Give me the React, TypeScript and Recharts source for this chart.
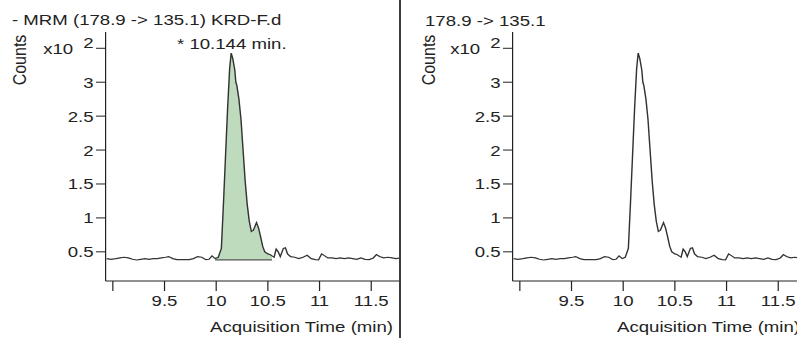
import { ComposedChart, Line, Area, XAxis, YAxis, ReferenceLine } from 'recharts';

// acquisition time (min) and counts (x10^2)
const times = [
  8.94, 8.98, 9.03, 9.07, 9.11, 9.15, 9.19, 9.23, 9.27, 9.31, 9.35, 9.39, 9.43, 9.47, 9.51, 9.54,
  9.58, 9.62, 9.66, 9.7, 9.74, 9.78, 9.82, 9.86, 9.9, 9.93, 9.96, 9.99, 10.02, 10.05, 10.07, 10.09,
  10.11, 10.13, 10.145, 10.16, 10.18, 10.19, 10.2, 10.22, 10.24, 10.26, 10.28, 10.3, 10.32, 10.34,
  10.36, 10.39, 10.41, 10.43, 10.45, 10.47, 10.5, 10.52, 10.54, 10.56, 10.58, 10.6, 10.62, 10.65,
  10.67, 10.69, 10.72, 10.76, 10.8, 10.84, 10.88, 10.92, 10.96, 10.99, 11.02, 11.05, 11.08, 11.12,
  11.16, 11.2, 11.24, 11.28, 11.32, 11.36, 11.4, 11.44, 11.48, 11.52, 11.55, 11.58, 11.62, 11.66,
  11.7, 11.74, 11.79,
];
const counts = [
  0.4, 0.39, 0.4, 0.41, 0.42, 0.41, 0.39, 0.38, 0.39, 0.4, 0.39, 0.4, 0.4, 0.41, 0.42, 0.43,
  0.4, 0.385, 0.385, 0.385, 0.385, 0.4, 0.43, 0.42, 0.385, 0.39, 0.44, 0.4, 0.42, 0.55, 1.2, 1.9,
  2.6, 3.2, 3.43, 3.35, 3.18, 3.0, 2.95, 2.75, 2.45, 2.0, 1.55, 1.2, 0.95, 0.8,
  0.82, 0.93, 0.85, 0.72, 0.58, 0.5, 0.47, 0.46, 0.44, 0.42, 0.54, 0.5, 0.43, 0.55,
  0.56, 0.47, 0.43, 0.42, 0.4, 0.42, 0.45, 0.4, 0.385, 0.38, 0.47, 0.44, 0.41, 0.41,
  0.4, 0.41, 0.4, 0.41, 0.4, 0.39, 0.41, 0.39, 0.385, 0.41, 0.46, 0.43, 0.41, 0.42,
  0.41, 0.4, 0.41,
];

const xTicks = [9, 9.5, 10, 10.5, 11, 11.5];
const yTicks = [0.5, 1, 1.5, 2, 2.5, 3, 3.5];

// integrated peak
const peakStart = 9.99;
const peakEnd = 10.54;
const peakBase = 0.38;
const peakLabel = '* 10.144 min.';

const font = '"Liberation Sans", Arial, sans-serif';
const ink = '#222';
const stretch = 1.2; // the reference is stretched horizontally

const data = times.map((t, i) => ({
  time: t,
  counts: counts[i],
  peak: t >= peakStart && t <= peakEnd ? counts[i] : null,
}));

const YTick = ({ x, y, payload }: any) => {
  if (payload.value === 3.5) {
    // top tick carries the exponent instead of a value
    return (
      <g fontFamily={font} fontSize={15.5} fill={ink}>
        <text x={x - 17} y={y + 5.5} textAnchor="end">x10</text>
        <text x={x} y={y} textAnchor="end">2</text>
      </g>
    );
  }
  return (
    <text x={x} y={y + 5.5} textAnchor="end" fontFamily={font} fontSize={15.5} fill={ink}>
      {payload.value}
    </text>
  );
};

function Panel({ title, left, showPeak }: { title: string; left: number; showPeak: boolean }) {
  return (
    <div
      style={{
        position: 'absolute',
        left,
        top: 0,
        width: 334,
        height: 338,
        transform: `scaleX(${stretch})`,
        transformOrigin: 'left top',
        fontFamily: font,
        color: ink,
      }}
    >
      <div style={{ position: 'absolute', left: showPeak ? 10 : 15, top: showPeak ? 11.5 : 13, fontSize: 15.5, lineHeight: '16px', whiteSpace: 'nowrap' }}>
        {title}
      </div>
      {showPeak && (
        <div style={{ position: 'absolute', left: 147.5, top: 35.5, fontSize: 15.5, lineHeight: '16px', whiteSpace: 'nowrap' }}>
          {peakLabel}
        </div>
      )}
      <div
        style={{
          position: 'absolute',
          left: showPeak ? 17 : 18,
          top: 60,
          fontSize: 16,
          lineHeight: '16px',
          whiteSpace: 'nowrap',
          transform: 'translate(-50%, -50%) rotate(-90deg)',
        }}
      >
        Counts
      </div>
      <div style={{ position: 'absolute', right: 6.5, top: 318.5, fontSize: 15.5, lineHeight: '16px', whiteSpace: 'nowrap' }}>
        Acquisition Time (min)
      </div>
      <ComposedChart
        width={334}
        height={338}
        data={data}
        margin={{ top: 32, right: 0, left: 28, bottom: 7 }}
        style={{ position: 'absolute', left: 0, top: 0 }}
      >
        <XAxis
          dataKey="time"
          type="number"
          domain={[8.93, 11.786]}
          ticks={xTicks}
          allowDataOverflow
          height={50}
          tickSize={10}
          tickMargin={4}
          stroke={ink}
          tickFormatter={(v: number) => (v === 9 ? '' : String(v))}
          tick={{ fontFamily: font, fontSize: 15.5, fill: ink }}
        />
        <YAxis
          type="number"
          domain={[0.07, 3.74]}
          ticks={yTicks}
          allowDataOverflow
          width={60}
          tickSize={8}
          tickMargin={2}
          stroke={ink}
          tick={<YTick />}
        />
        {showPeak && (
          <Area
            dataKey="peak"
            type="linear"
            baseValue={peakBase}
            fill="#bfdbbd"
            fillOpacity={1}
            stroke="none"
            isAnimationActive={false}
          />
        )}
        {showPeak && (
          <ReferenceLine
            segment={[
              { x: peakStart, y: peakBase },
              { x: peakEnd, y: peakBase },
            ]}
            stroke="#555"
            strokeWidth={1.3}
          />
        )}
        <Line
          dataKey="counts"
          type="linear"
          stroke="#333"
          strokeWidth={1.2}
          dot={false}
          isAnimationActive={false}
        />
      </ComposedChart>
    </div>
  );
}

export default function App() {
  return (
    <div
      style={{
        position: 'absolute',
        left: 0,
        top: 0,
        width: 797,
        height: 338,
        overflow: 'hidden',
        background: '#fff',
      }}
    >
      <Panel title="- MRM (178.9 -> 135.1) KRD-F.d" left={0} showPeak />
      <Panel title="178.9 -> 135.1" left={407} showPeak={false} />
      <div style={{ position: 'absolute', left: 399, top: 0, width: 2, height: 338, background: '#3c3c3c' }} />
    </div>
  );
}
